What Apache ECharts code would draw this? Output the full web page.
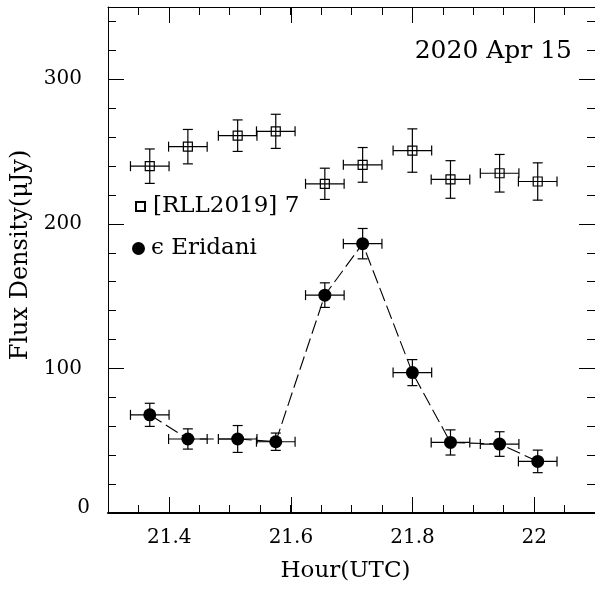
<!DOCTYPE html>
<html>
<head>
<meta charset="utf-8">
<script src="https://cdn.jsdelivr.net/npm/echarts@6/dist/echarts.min.js"></script>
<style>
html,body{margin:0;padding:0;background:#fff;}
#chart{width:595px;height:590px;}
</style>
</head>
<body>
<div id="chart"></div>
<script>
// ---- data ----
const hours = [21.3686, 21.4312, 21.5130, 21.5756, 21.6562, 21.7183, 21.8000, 21.8626, 21.9433, 22.0059];
const hourErr = [0.0317, 0.0317, 0.0317, 0.0317, 0.0317, 0.0317, 0.0317, 0.0317, 0.0317, 0.0317];
const rllFlux = [239.9, 253.4, 261.0, 264.0, 227.7, 240.8, 250.7, 230.7, 235.0, 229.3];
const rllErr  = [11.9, 11.9, 10.9, 11.8, 10.8, 12.0, 15.0, 13.0, 13.0, 12.9];
const epsFlux = [67.9, 51.2, 51.2, 49.3, 150.7, 186.3, 97.1, 48.8, 47.7, 35.7];
const epsErr  = [8.0, 7.0, 9.3, 6.0, 8.5, 10.5, 9.0, 8.7, 8.5, 7.8];
const xTickValues = [21.4, 21.6, 21.8, 22.0];
const xTickLabels = ['21.4', '21.6', '21.8', '22'];
const yTickValues = [0, 100, 200, 300];
const yTickLabels = ['0', '100', '200', '300'];
const rllName = '[RLL2019] 7';
const epsName = '\u03F5 Eridani';
const dateLabel = '2020 Apr 15';

const FONT = 'DejaVu Serif';
const chart = echarts.init(document.getElementById('chart'), null, {renderer: 'canvas'});

function errData(vals, errs) {
  return hours.map((h, i) => [h, vals[i], hourErr[i], errs[i]]);
}
function renderErr(params, api) {
  const x = api.value(0), y = api.value(1), xe = api.value(2), ye = api.value(3);
  const c = api.coord([x, y]);
  const l = api.coord([x - xe, y]);
  const r = api.coord([x + xe, y]);
  const t = api.coord([x, y + ye]);
  const b = api.coord([x, y - ye]);
  const cap = 5;
  const style = {stroke: '#000', lineWidth: 1.2, fill: null};
  const ln = (x1, y1, x2, y2) => ({type: 'line', shape: {x1, y1, x2, y2}, style});
  return {type: 'group', children: [
    ln(l[0], c[1], r[0], c[1]),
    ln(l[0], c[1] - cap, l[0], c[1] + cap),
    ln(r[0], c[1] - cap, r[0], c[1] + cap),
    ln(c[0], t[1], c[0], b[1]),
    ln(c[0] - cap, t[1], c[0] + cap, t[1]),
    ln(c[0] - cap, b[1], c[0] + cap, b[1])
  ]};
}

// plot frame: 21.3..22.1 h, 0..350 uJy
const xMin = 21.3, xMax = 22.1, yMin = 0, yMax = 350;
const gL = 108, gT = 7, gW = 490, gH = 506;
const pxPerHour = gW / (xMax - xMin);
const xMajorStart = xTickValues[0];
const gridFrame = {left: gL, top: gT, width: gW, height: gH};
// same frame, sub-range starting at the first major tick so interval counting starts there
const gridMajorX = {left: gL + (xMajorStart - xMin) * pxPerHour, top: gT, width: (xMax - xMajorStart) * pxPerHour, height: gH};

const noLine = {show: false, onZero: false};
const tickStyle = {color: '#000', width: 1};

const frameX = pos => ({
  gridIndex: 0, type: 'value', position: pos, min: xMin, max: xMax,
  axisLine: {show: true, onZero: false, lineStyle: {color: '#000', width: pos === 'bottom' ? 2 : 1}},
  axisTick: {show: false}, axisLabel: {show: false}, splitLine: {show: false},
  name: pos === 'bottom' ? 'Hour(UTC)' : '', nameLocation: 'middle', nameGap: 47,
  nameTextStyle: {color: '#000', fontFamily: FONT, fontSize: 23, padding: [0, 12, 0, 0]}
});
const majorY = (pos, labels) => ({
  gridIndex: 0, type: 'value', position: pos, min: yMin, max: yMax, interval: 100,
  axisLine: {show: true, onZero: false, lineStyle: {color: '#000', width: 1}},
  axisTick: {show: true, inside: true, length: 16, lineStyle: tickStyle},
  axisLabel: labels ? {show: true, margin: 18, color: '#000', fontFamily: FONT, fontSize: 20, showMaxLabel: false,
    rich: {
      p: {fontFamily: FONT, fontSize: 20, color: '#000', padding: [0, 8, 0, 0]},
      z: {fontFamily: FONT, fontSize: 20, color: '#000', padding: [0, 0, 10, 0]}
    },
    formatter: v => {
      const i = yTickValues.indexOf(v);
      if (i < 0) return '';
      return (i === 0 ? '{z|' : '{p|') + yTickLabels[i] + '}';
    }} : {show: false},
  splitLine: {show: false},
  name: labels ? 'Flux Density(\u03BCJy)' : '', nameLocation: 'middle', nameGap: 72, nameRotate: 90,
  nameTextStyle: {color: '#000', fontFamily: FONT, fontSize: 24, padding: [0, 0, 0, 10]}
});
const minorX = pos => ({
  gridIndex: 1, type: 'value', position: pos, min: xMin, max: xMax, interval: 0.05,
  axisLine: noLine,
  axisTick: {show: true, inside: true, length: 8, lineStyle: tickStyle},
  axisLabel: {show: false}, splitLine: {show: false}
});
const minorY = pos => ({
  gridIndex: 1, type: 'value', position: pos, min: yMin, max: yMax, interval: 20,
  axisLine: noLine,
  axisTick: {show: true, inside: true, length: 8, lineStyle: tickStyle},
  axisLabel: {show: false}, splitLine: {show: false}
});
const majorX = (pos, labels) => ({
  gridIndex: 2, type: 'value', position: pos, min: xMajorStart, max: xMax, interval: 0.2,
  axisLine: noLine,
  axisTick: {show: true, inside: true, length: 16, lineStyle: tickStyle},
  axisLabel: labels ? {show: true, margin: 15, color: '#000', fontFamily: FONT, fontSize: 20, showMaxLabel: false,
    formatter: v => { const i = xTickValues.findIndex(t => Math.abs(t - v) < 1e-6); return i >= 0 ? xTickLabels[i] : ''; }} : {show: false},
  splitLine: {show: false}
});

const option = {
  backgroundColor: '#fff',
  animation: false,
  grid: [gridFrame, Object.assign({}, gridFrame), gridMajorX],
  xAxis: [frameX('bottom'), frameX('top'), minorX('bottom'), minorX('top'), majorX('bottom', true), majorX('top', false)],
  yAxis: [majorY('left', true), majorY('right', false), minorY('left'), minorY('right'),
          {gridIndex: 2, type: 'value', min: yMin, max: yMax, show: false}],
  legend: [
    {data: [{name: rllName, icon: 'rect'}], left: 130, top: 190, orient: 'vertical',
     itemWidth: 9, itemHeight: 9, itemGap: 0,
     textStyle: {color: '#000', fontFamily: FONT, fontSize: 23, padding: [0, 0, 0, 3]}, selectedMode: false},
    {data: [{name: epsName, icon: 'circle'}], left: 127, top: 232, orient: 'vertical',
     itemWidth: 13, itemHeight: 13, itemGap: 0,
     textStyle: {color: '#000', fontFamily: FONT, fontSize: 23, padding: [0, 0, 0, 1]}, selectedMode: false}
  ],
  graphic: [
    {type: 'text', right: 23, top: 39, style: {text: dateLabel, fill: '#000', font: '25px "' + FONT + '"'}}
  ],
  series: [
    {type: 'custom', name: 'rllErr', xAxisIndex: 0, yAxisIndex: 0, renderItem: renderErr,
     encode: {x: 0, y: 1}, data: errData(rllFlux, rllErr), z: 2, silent: true},
    {type: 'custom', name: 'epsErr', xAxisIndex: 0, yAxisIndex: 0, renderItem: renderErr,
     encode: {x: 0, y: 1}, data: errData(epsFlux, epsErr), z: 2, silent: true},
    {type: 'line', name: 'epsLine', xAxisIndex: 0, yAxisIndex: 0, data: hours.map((h, i) => [h, epsFlux[i]]),
     symbol: 'none', lineStyle: {color: '#000', width: 1.1, type: [14, 5]}, z: 3, silent: true},
    {type: 'scatter', name: rllName, xAxisIndex: 0, yAxisIndex: 0, data: hours.map((h, i) => [h, rllFlux[i]]),
     symbol: 'rect', symbolSize: 9, itemStyle: {color: 'rgba(0,0,0,0)', borderColor: '#000', borderWidth: 1.2, opacity: 1}, z: 4},
    {type: 'scatter', name: epsName, xAxisIndex: 0, yAxisIndex: 0, data: hours.map((h, i) => [h, epsFlux[i]]),
     symbol: 'circle', symbolSize: 13, itemStyle: {color: '#000', opacity: 1}, z: 4}
  ]
};
chart.setOption(option);
</script>
</body>
</html>
